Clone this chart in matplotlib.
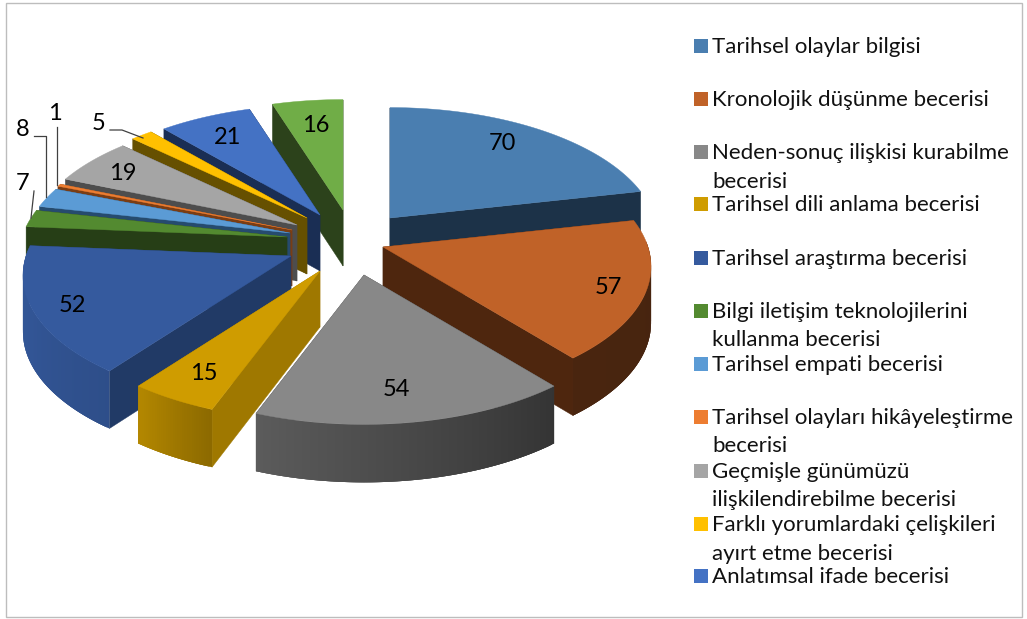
import numpy as np
import matplotlib
matplotlib.use("Agg")
import matplotlib.pyplot as plt
from matplotlib.patches import Polygon, Rectangle
from matplotlib.collections import PolyCollection

plt.rcParams['font.family'] = ['Lato', 'DejaVu Sans']

# ---- data ----
values = [70, 57, 54, 15, 52, 7, 8, 1, 19, 5, 21, 16]
legend_labels = [
    "Tarihsel olaylar bilgisi",
    "Kronolojik düşünme becerisi",
    "Neden-sonuç ilişkisi kurabilme\nbecerisi",
    "Tarihsel dili anlama becerisi",
    "Tarihsel araştırma becerisi",
    "Bilgi iletişim teknolojilerini\nkullanma becerisi",
    "Tarihsel empati becerisi",
    "Tarihsel olayları hikâyeleştirme\nbecerisi",
    "Geçmişle günümüzü\nilişkilendirebilme becerisi",
    "Farklı yorumlardaki çelişkileri\nayırt etme becerisi",
    "Anlatımsal ifade becerisi",
]

# ---- style / layout ----
top_colors = ["#4A7EB0", "#C06228", "#888888", "#CF9C00", "#355A9E", "#538A30",
              "#5B9BD5", "#ED7D31", "#A5A5A5", "#FFC000", "#4472C4", "#70AD47"]
wall_colors = ["#1C3248", "#4E260E", "#3A3A3A", "#9F7800", "#213A66", "#263E16",
               "#264B6E", "#7A3D14", "#4D4D4D", "#665000", "#1A2E54", "#2C421B"]
explode_x = [50, 43, 24, -20, -49, -53, -50, -48, -43, -33, -20, 3]
explode_y = [-22, 7, 35, 31, 16, -3, -7, -10, -15, -22, -25, -30]
label_x = [502, 608, 396, 204, 72, 23, 23, 55, 123, 99, 228, 316]
label_y = [144, 287, 390, 374, 306, 183, 129, 114, 173, 123, 138, 125]
draw_order = [11, 10, 9, 8, 7, 6, 5, 4, 3, 0, 1, 2]
legend_y = [46, 99, 152, 204, 258, 311, 364, 417, 471, 524, 576]
legend_colors = top_colors[:11]
CX, CY = 340, 240
RX, RY, K = 265, 127, 0.15
shade_a = [60, 140, 200, 217, 250, 280]
shade_f = [0.36, 0.38, 0.67, 0.87, 0.95, 0.95]

def project(theta_deg, radius=1.0):
    t = np.radians(theta_deg)
    X, Y = radius * np.sin(t), radius * np.cos(t)
    s = 1.0 / (1.0 + K * Y)
    return RX * X * s, -RY * Y * s, s

def depth(s):
    return 45 + 11 * s

fig = plt.figure(figsize=(10.27, 6.19), dpi=100, facecolor="white")
ax = fig.add_axes([0, 0, 1, 1])
ax.set_xlim(0, 1027)
ax.set_ylim(619, 0)
ax.axis("off")

ax.add_patch(Rectangle((6, 3), 1016, 614, fill=False, ec="#BDBDBD", lw=1.0, zorder=0))

edges = np.concatenate([[0], np.cumsum(values)]) / sum(values) * 360.0
z = 1.0
for i in draw_order:
    a0, a1 = edges[i], edges[i + 1]
    tx, ty = CX + explode_x[i], CY + explode_y[i]
    th = np.linspace(a0, a1, max(int((a1 - a0) * 2), 3))
    px, py, ps = project(th)
    px, py = px + tx, py + ty
    d_tip = depth(1.0)
    # radial walls: farther one first
    walls = []
    for j in (0, -1):
        poly = [(tx, ty), (px[j], py[j]), (px[j], py[j] + depth(ps[j])), (tx, ty + d_tip)]
        walls.append((py[j], poly))
    walls.sort(key=lambda w: w[0])
    for _, poly in walls:
        ax.add_patch(Polygon(poly, closed=True, fc=wall_colors[i], ec=wall_colors[i], lw=0.3, zorder=z))
        z += 1
    # outer curved wall, shaded by angle; each strip overlaps the next so no seams show
    quads, cols = [], []
    base = np.array(matplotlib.colors.to_rgb(top_colors[i]))
    n = len(th)
    for k in range(n - 1):
        mid = 0.5 * (th[k] + th[k + 1])
        if np.cos(np.radians(mid)) > 0.05:
            continue
        e = min(k + 3, n - 1)
        idx = np.arange(k, e + 1)
        upper = list(zip(px[idx], py[idx]))
        lower = [(px[m], py[m] + depth(ps[m])) for m in idx[::-1]]
        quads.append(upper + lower)
        cols.append(base * np.interp(mid, shade_a, shade_f))
    if quads:
        ax.add_collection(PolyCollection(quads, facecolors=cols, edgecolors="none", zorder=z))
        z += 1
    # top face
    top = [(tx, ty)] + list(zip(px, py))
    ax.add_patch(Polygon(top, closed=True, fc=top_colors[i], ec=top_colors[i], lw=0.3, zorder=z))
    z += 1

# data labels
for v, x, y in zip(values, label_x, label_y):
    ax.text(x, y, str(v), ha="center", va="center", fontsize=17, color="black", zorder=500)

# leader lines
leaders = [([110, 122, 143], [130, 130, 138]),
           ([34, 46, 46], [136, 136, 197]),
           ([57, 57], [127, 185]),
           ([34, 31], [191, 218])]
for lx, ly in leaders:
    ax.plot(lx, ly, color="#404040", lw=0.9, zorder=499)

# legend
for lab, y, c in zip(legend_labels, legend_y, legend_colors):
    ax.add_patch(Rectangle((694, y - 7), 14, 14, fc=c, ec="none", zorder=500))
    for n, line in enumerate(lab.split("\n")):
        ax.text(712.5, y + 1 + n * 28.5, line, ha="left", va="center", fontsize=16, color="#111111", zorder=500)

fig.savefig("out.png", dpi=100)
